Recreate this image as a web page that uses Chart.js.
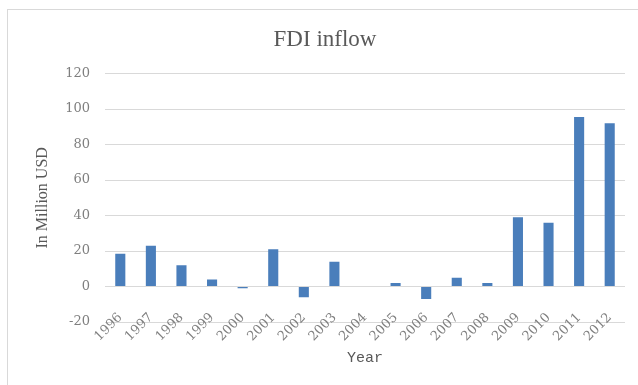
<!DOCTYPE html>
<html>
<head>
<meta charset="utf-8">
<script src="https://cdn.jsdelivr.net/npm/chart.js@4/dist/chart.umd.min.js"></script>
<style>
  html, body { margin: 0; padding: 0; background: #ffffff; }
  #wrap { position: relative; width: 638px; height: 385px; overflow: hidden; }
  #frame { position: absolute; left: 7px; top: 9px; width: 640px; height: 390px;
           border-left: 1px solid #d9d9d9; border-top: 1px solid #d9d9d9; }
  canvas { position: absolute; left: 0; top: 0; }
</style>
</head>
<body>
<div id="wrap">
  <div id="frame"></div>
  <canvas id="fdi" width="638" height="385"></canvas>
</div>
<script>
// Annual FDI inflow, in million USD
const years = ['1996', '1997', '1998', '1999', '2000', '2001', '2002', '2003', '2004',
               '2005', '2006', '2007', '2008', '2009', '2010', '2011', '2012'];
const fdiInflow = [18.5, 23, 12, 4, -1, 21, -6, 14, 0, 2, -7, 5, 2, 39, 36, 95.5, 92];
const yTicks = [-20, 0, 20, 40, 60, 80, 100, 120];

const grey = '#7f7f7f';
const dark = '#595959';

new Chart(document.getElementById('fdi'), {
  type: 'bar',
  data: {
    labels: years,
    datasets: [{
      label: 'FDI inflow',
      data: fdiInflow,
      backgroundColor: '#4a7ebb',
      borderWidth: 0,
      categoryPercentage: 1,
      barPercentage: 0.33
    }]
  },
  options: {
    responsive: false,
    animation: false,
    layout: { padding: { left: 25, right: 13, top: 0, bottom: 0 } },
    plugins: {
      legend: { display: false },
      tooltip: { enabled: false },
      title: {
        display: true,
        text: 'FDI inflow',
        color: dark,
        font: { family: 'Liberation Serif', size: 23, weight: 'normal' },
        padding: { top: 26, bottom: 20 }
      }
    },
    scales: {
      x: {
        grid: { display: false, drawTicks: false },
        border: { display: false },
        ticks: {
          minRotation: 45,
          maxRotation: 45,
          autoSkip: false,
          padding: -12,
          color: grey,
          font: { family: 'DejaVu Serif', size: 13 }
        },
        title: {
          display: true,
          text: 'Year',
          color: dark,
          font: { family: 'Liberation Mono', size: 15 },
          padding: { top: 0, bottom: 18 }
        },
        afterFit: (scale) => { scale.height = 63; },
        // year labels straddle the bottom gridline, so let them draw above the axis box
        afterUpdate: (scale) => { scale._computeLabelArea = () => undefined; }
      },
      y: {
        min: yTicks[0],
        max: yTicks[yTicks.length - 1],
        grid: { color: '#d9d9d9', lineWidth: 1, drawTicks: false },
        border: { display: false },
        afterBuildTicks: (scale) => { scale.ticks = yTicks.map(v => ({ value: v })); },
        ticks: {
          padding: 15,
          color: grey,
          font: { family: 'DejaVu Serif', size: 13 }
        },
        title: {
          display: true,
          text: 'In Million USD',
          color: dark,
          font: { family: 'Liberation Serif', size: 16 },
          padding: { top: 8, bottom: 0 }
        },
        afterFit: (scale) => { scale.width = 80; }
      }
    }
  }
});
</script>
</body>
</html>
